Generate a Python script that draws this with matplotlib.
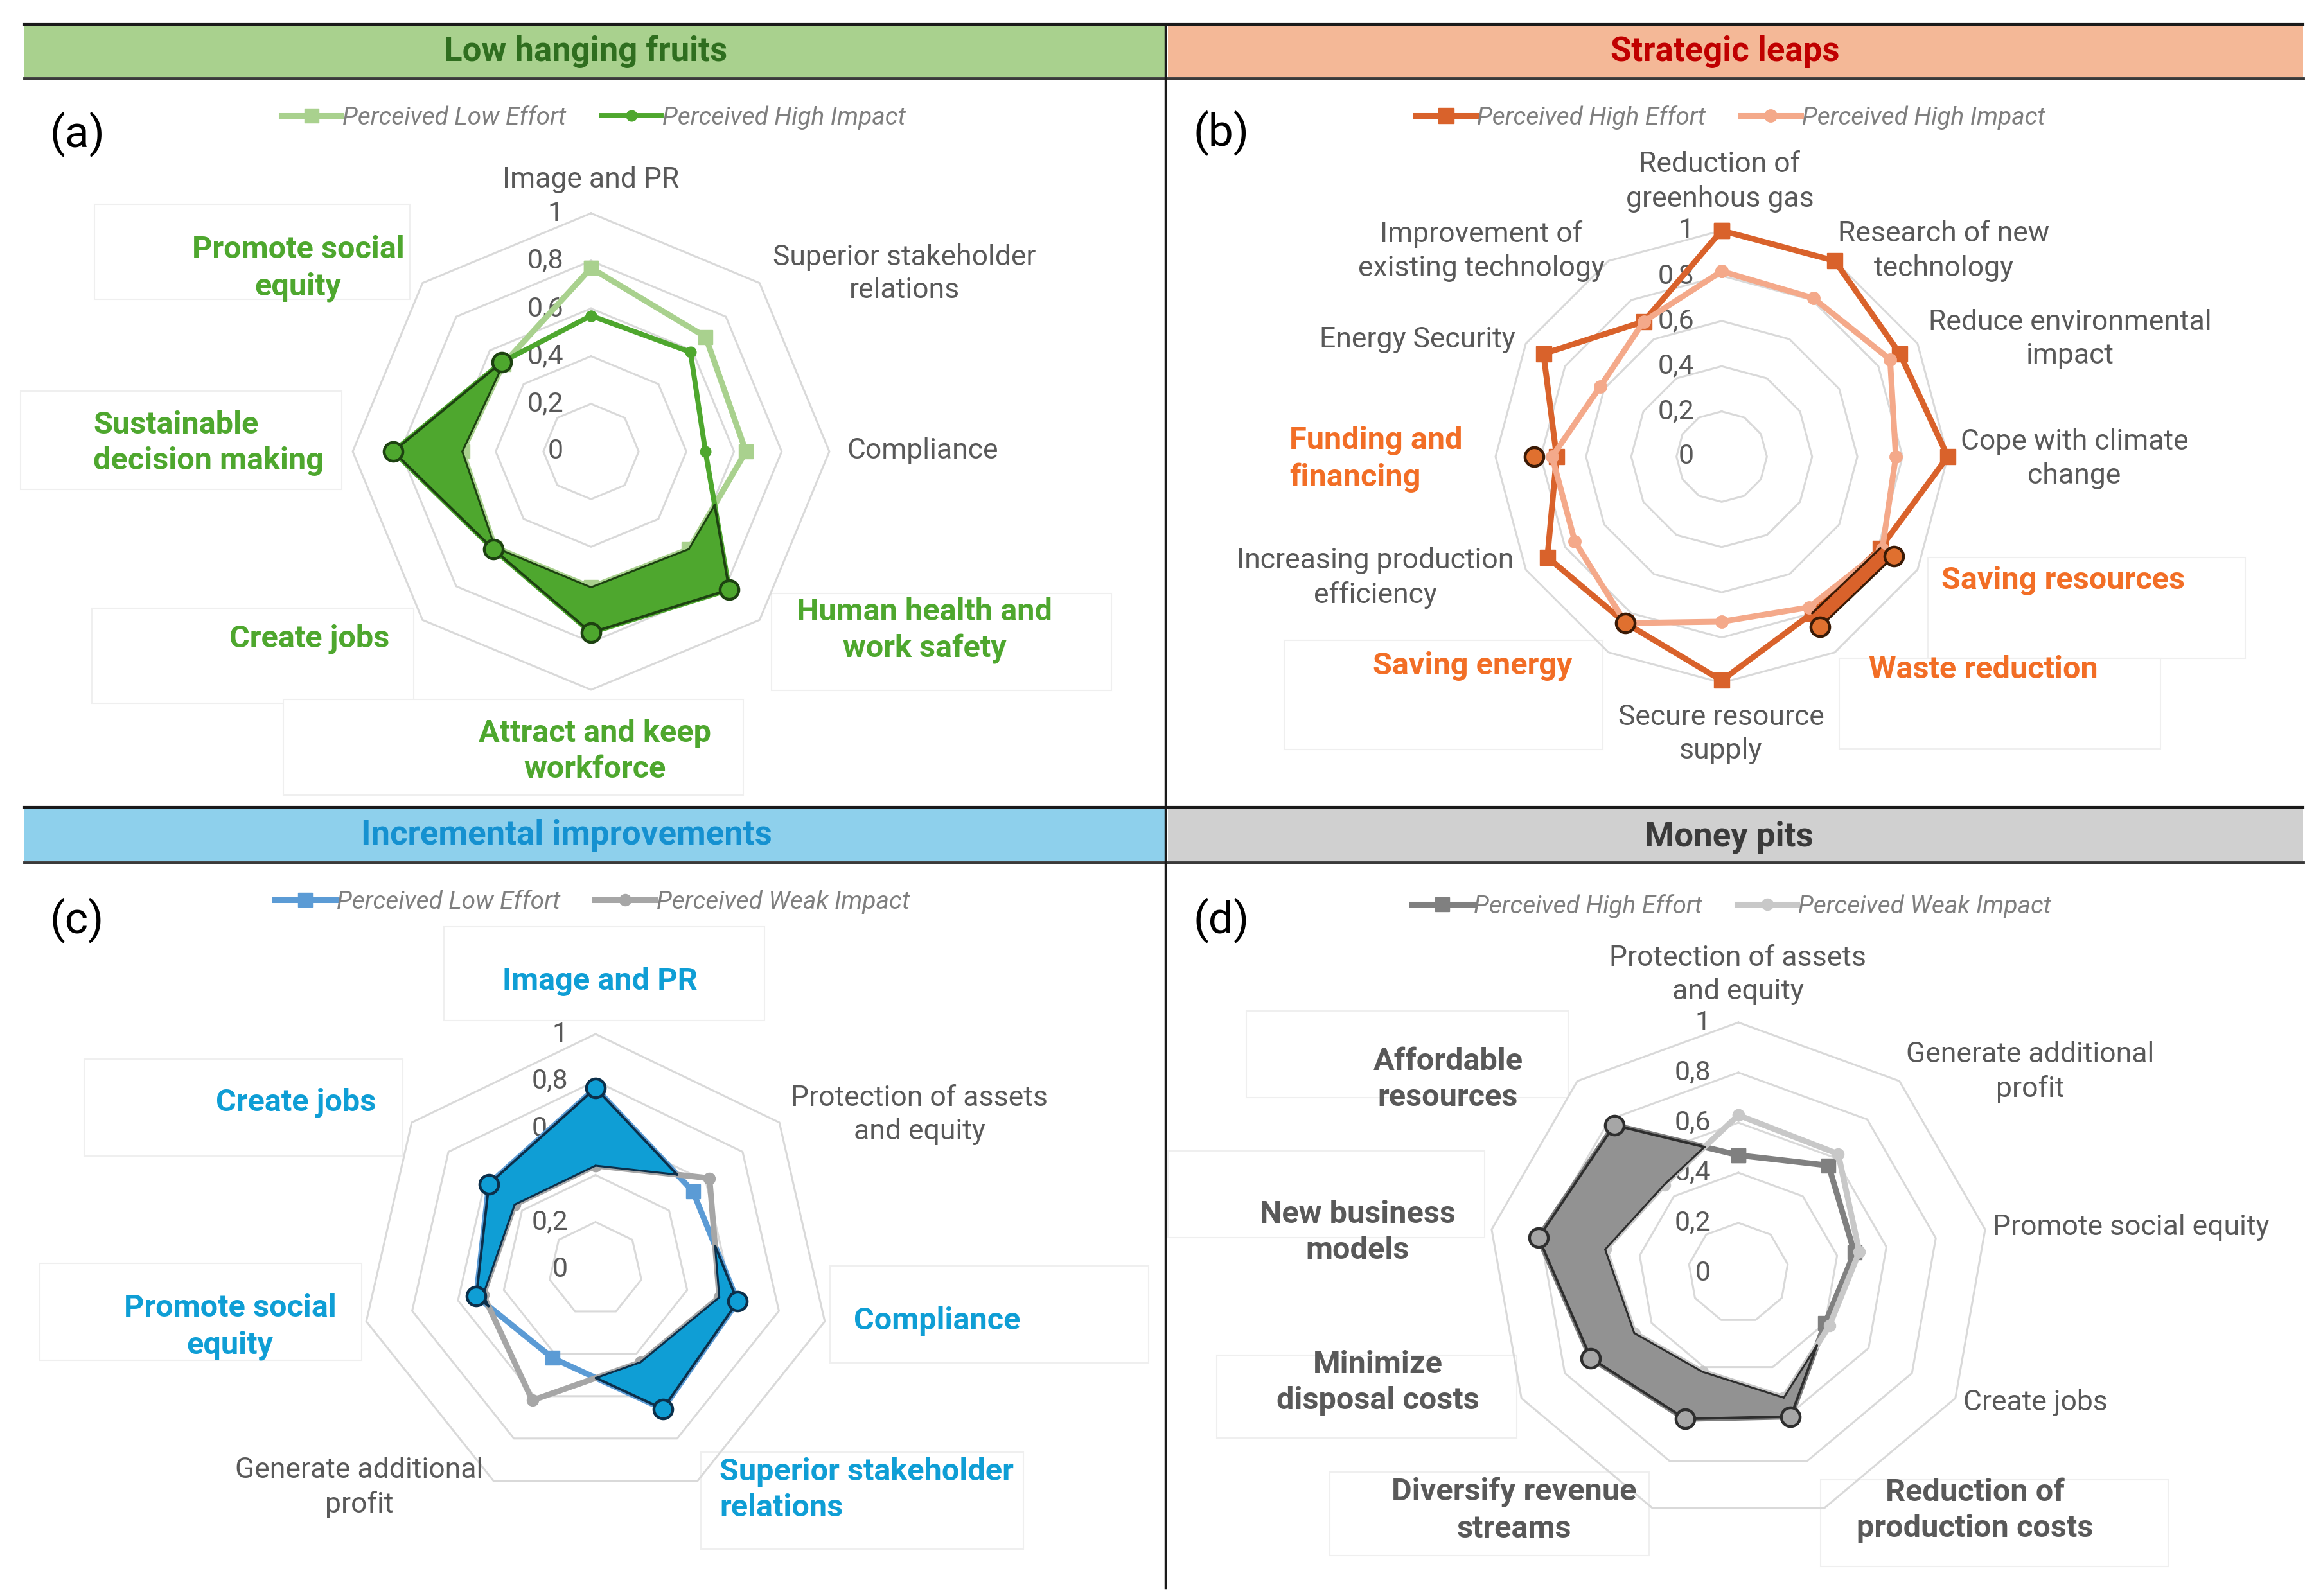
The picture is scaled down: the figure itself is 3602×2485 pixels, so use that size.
import numpy as np
import matplotlib
matplotlib.use("Agg")
import matplotlib.pyplot as plt
from matplotlib.lines import Line2D
from matplotlib.patches import Rectangle

# ---------------- DATA ----------------
a_categories = ["Image and PR", "Superior stakeholder\nrelations", "Compliance",
                "Human health and\nwork safety", "Attract and keep\nworkforce", "Create jobs",
                "Sustainable\ndecision making", "Promote social\nequity"]
a_low_effort = [0.77, 0.68, 0.65, 0.58, 0.57, 0.57, 0.54, 0.52]
a_high_impact = [0.57, 0.59, 0.48, 0.82, 0.76, 0.58, 0.83, 0.53]
a_highlight = [False, False, False, True, True, True, True, True]

b_categories = ["Reduction of\ngreenhous gas", "Research of new\ntechnology",
                "Reduce environmental\nimpact", "Cope with climate\nchange", "Saving resources",
                "Waste reduction", "Secure resource\nsupply", "Saving energy",
                "Increasing production\nefficiency", "Funding and\nfinancing", "Energy Security",
                "Improvement of\nexisting technology"]
b_high_effort = [1.00, 1.00, 0.91, 1.00, 0.81, 0.80, 0.99, 0.85, 0.89, 0.73, 0.91, 0.69]
b_high_impact = [0.82, 0.81, 0.86, 0.77, 0.82, 0.77, 0.73, 0.85, 0.75, 0.75, 0.62, 0.69]
b_highlight_vals = [np.nan, np.nan, np.nan, np.nan, 0.88, 0.87, np.nan, 0.85, np.nan, 0.83, np.nan, 0.69]
b_highlight = [False, False, False, False, True, True, False, True, False, True, False, False]

c_categories = ["Image and PR", "Protection of assets\nand equity", "Compliance",
                "Superior stakeholder\nrelations", "Generate additional\nprofit",
                "Promote social\nequity", "Create jobs"]
c_low_effort = [0.77, 0.53, 0.62, 0.66, 0.42, 0.52, 0.58]
c_weak_impact = [0.44, 0.62, 0.54, 0.44, 0.62, 0.49, 0.44]
c_highlight = [True, False, True, True, False, True, True]

d_categories = ["Protection of assets\nand equity", "Generate additional\nprofit",
                "Promote social equity", "Create jobs", "Reduction of\nproduction costs",
                "Diversify revenue\nstreams", "Minimize\ndisposal costs", "New business\nmodels",
                "Affordable\nresources"]
d_high_effort = [0.47, 0.56, 0.47, 0.40, 0.61, 0.62, 0.68, 0.81, 0.77]
d_weak_impact = [0.63, 0.62, 0.49, 0.42, 0.53, 0.42, 0.48, 0.54, 0.46]
d_highlight = [False, False, False, False, True, True, True, True, True]

ring_levels = [0, 0.2, 0.4, 0.6, 0.8, 1.0]
ring_labels = ["0", "0,2", "0,4", "0,6", "0,8", "1"]

# ---------------- LAYOUT ----------------
W, H = 3602, 2485
plt.rcParams['font.family'] = ['Roboto', 'DejaVu Sans']
fig = plt.figure(figsize=(W / 100, H / 100), dpi=100)
fig.patch.set_facecolor('white')

def fx(x):
    return x / W

def fy(y):
    return 1 - y / H

GRID = '#d9d9d9'
TXT = '#595959'
LW = 6.5

def rect(x0, y0, x1, y1, fc, ec='none', lw=0, z=0):
    fig.add_artist(Rectangle((fx(x0), fy(y1)), (x1 - x0) / W, (y1 - y0) / H,
                             transform=fig.transFigure, facecolor=fc, edgecolor=ec,
                             lw=lw, zorder=z))

def hline(x0, x1, y, color, lw):
    fig.add_artist(Line2D([fx(x0), fx(x1)], [fy(y), fy(y)], transform=fig.transFigure,
                          color=color, lw=lw, zorder=3))

# header bands
rect(38, 40, 1814, 120, '#a9d18e')
rect(1818, 40, 3585, 120, '#f4b897')
rect(38, 1260, 1814, 1340, '#8ed0ec')
rect(1818, 1260, 3585, 1340, '#d0d0d0')
hline(38, 3585, 38, '#1a1a1a', 3)
hline(38, 3585, 122, '#3a3a3a', 3.5)
hline(38, 3585, 1257, '#1a1a1a', 3)
hline(38, 3585, 1343, '#3a3a3a', 3.5)
fig.add_artist(Line2D([fx(1814), fx(1814)], [fy(38), fy(2472)], transform=fig.transFigure,
                      color='#1a1a1a', lw=2.5, zorder=3))

headers = [("Low hanging fruits", 912, 80, '#2f6e1f'),
           ("Strategic leaps", 2685, 80, '#c00000'),
           ("Incremental improvements", 882, 1301, '#1591d0'),
           ("Money pits", 2691, 1303, '#3a3a3a')]
for t, x, y, c in headers:
    fig.text(fx(x), fy(y), t, ha='center', va='center', fontsize=38, fontweight='bold', color=c)

for t, x, y in [("(a)", 120, 209), ("(b)", 1901, 207), ("(c)", 120, 1433), ("(d)", 1901, 1433)]:
    fig.text(fx(x), fy(y), t, ha='center', va='center', fontsize=50, color='black')


def make_polar(cx, cy, R):
    ax = fig.add_axes([(cx - R) / W, 1 - (cy + R) / H, 2 * R / W, 2 * R / H], projection='polar')
    ax.set_theta_zero_location('N')
    ax.set_theta_direction(-1)
    ax.set_ylim(0, 1)
    ax.set_xticks([])
    ax.set_yticks([])
    ax.grid(False)
    ax.spines['polar'].set_visible(False)
    ax.patch.set_visible(False)
    ax.set_zorder(2)
    return ax


def closed(v):
    v = list(v)
    return np.array(v + v[:1], dtype=float)


def draw_grid(ax, n):
    th = np.linspace(0, 2 * np.pi, n, endpoint=False)
    for lv in ring_levels[1:]:
        ax.plot(closed(th), [lv] * (n + 1), color=GRID, lw=2.2, zorder=1, clip_on=False)
    for lv, lab in zip(ring_levels, ring_labels):
        ax.annotate(lab, xy=(0, lv), xytext=(-31, 0), textcoords='offset points',
                    ha='right', va='center', fontsize=31, color=TXT, zorder=1.5,
                    annotation_clip=False)
    return th


def xy(t, r):
    return np.array([r * np.cos(t), r * np.sin(t)])


def intersect(p0, p1, q0, q1):
    d1 = p1 - p0
    d2 = q1 - q0
    A = np.array([[d1[0], -d2[0]], [d1[1], -d2[1]]])
    s, _ = np.linalg.solve(A, q0 - p0)
    return p0 + s * d1


def draw_region(ax, th, outer, inner, sectors, face, edge, lw_out=2.8, lw_in=2.2):
    n = len(th)
    for i in sectors:
        j = (i + 1) % n
        if np.isnan(outer[i]) or np.isnan(outer[j]):
            continue
        P0, P1 = xy(th[i], outer[i]), xy(th[j], outer[j])
        Q0, Q1 = xy(th[i], inner[i]), xy(th[j], inner[j])
        d0, d1 = outer[i] - inner[i], outer[j] - inner[j]
        if d0 <= 0 and d1 <= 0:
            continue
        if d0 > 0 and d1 > 0:
            poly = [P0, P1, Q1, Q0]
            oe, ie = [P0, P1], [Q0, Q1]
        else:
            X = intersect(P0, P1, Q0, Q1)
            if d0 > 0:
                poly = [P0, X, Q0]
                oe, ie = [P0, X], [Q0, X]
            else:
                poly = [X, P1, Q1]
                oe, ie = [X, P1], [X, Q1]
        pts = np.array(poly)
        ax.fill(np.arctan2(pts[:, 1], pts[:, 0]), np.hypot(pts[:, 0], pts[:, 1]),
                facecolor=face, edgecolor=face, lw=1.0, zorder=4, clip_on=False)
        for seg, lw in ((oe, lw_out), (ie, lw_in)):
            s = np.array(seg)
            ax.plot(np.arctan2(s[:, 1], s[:, 0]), np.hypot(s[:, 0], s[:, 1]), color=edge,
                    lw=lw, zorder=4.5, solid_capstyle='round', clip_on=False)


def labels(cats, xys, has, highlight, hcolor):
    for name, (x, y), ha, hl in zip(cats, xys, has, highlight):
        if hl:
            fig.text(fx(x), fy(y), name, ha=ha, va='center', fontsize=35, fontweight='bold',
                     color=hcolor, linespacing=1.3, multialignment=ha)
        else:
            fig.text(fx(x), fy(y), name, ha=ha, va='center', fontsize=32, color=TXT,
                     linespacing=1.3, multialignment=ha)


def boxes(lst):
    for b in lst:
        rect(*b, fc='white', ec='#efefef', lw=1.5, z=0.5)


def legend(ax, handles, names, x, y, spacing=1.4):
    leg = ax.legend(handles=handles, labels=names, loc='center',
                    bbox_to_anchor=(fx(x), fy(y)), bbox_transform=fig.transFigure, ncol=2,
                    frameon=False, handlelength=2.4, handletextpad=0.05, columnspacing=spacing,
                    prop=dict(style='italic', size=28), numpoints=1)
    for t in leg.get_texts():
        t.set_color('#7f7f7f')


# ---------------- PANEL (a) ----------------
boxes([(147, 318, 638, 466), (32, 609, 532, 762), (143, 947, 644, 1095),
       (441, 1089, 1157, 1238), (1201, 924, 1730, 1075)])
ax = make_polar(920, 703, 371)
th = draw_grid(ax, len(a_categories))
la1, = ax.plot(closed(th), closed(a_low_effort), color='#a9d18e', lw=LW, marker='s', ms=16,
               zorder=3, clip_on=False)
la2, = ax.plot(closed(th), closed(a_high_impact), color='#4ea72e', lw=LW - 0.8, marker='o', ms=12,
               zorder=3.2, clip_on=False)
draw_region(ax, th, a_high_impact, a_low_effort, range(len(th)), '#4ea72e', '#1d4211')
idx = np.where(a_highlight)[0]
ax.plot(th[idx], np.array(a_high_impact)[idx], ls='none', marker='o', ms=21, mfc='#4ea72e',
        mec='#1d4211', mew=3.2, zorder=6, clip_on=False)
legend(ax, [la1, la2], ["Perceived Low Effort", "Perceived High Impact"], 924, 183)
labels(a_categories,
       [(920, 280), (1408, 426), (1436, 702), (1439, 982), (926, 1170), (482, 995), (145, 690), (464, 418)],
       ['center', 'center', 'center', 'center', 'center', 'center', 'left', 'center'],
       a_highlight, '#4ea72e')

# ---------------- PANEL (b) ----------------
boxes([(3001, 868, 3495, 1025), (2863, 1025, 3363, 1166), (1999, 997, 2495, 1167)])
ax = make_polar(2680, 711, 352)
th = draw_grid(ax, len(b_categories))
lb1, = ax.plot(closed(th), closed(b_high_effort), color='#d9622b', lw=LW, marker='s', ms=17,
               zorder=3, clip_on=False)
lb2, = ax.plot(closed(th), closed(b_high_impact), color='#f4a98a', lw=LW, marker='o', ms=14,
               zorder=3.2, clip_on=False)
draw_region(ax, th, b_highlight_vals, b_high_effort, [4], '#d9622b', '#3a1a06', 2.4, 2.4)
idx = np.where(b_highlight)[0]
ax.plot(th[idx], np.array(b_highlight_vals)[idx], ls='none', marker='o', ms=21, mfc='#e0702f',
        mec='#3a1a06', mew=3.2, zorder=6, clip_on=False)
legend(ax, [lb1, lb2], ["Perceived High Effort", "Perceived High Impact"], 2694, 183)
labels(b_categories,
       [(2677, 283), (3026, 391), (3222, 528), (3229, 714), (3211, 904), (3087, 1043),
        (2679, 1143), (2292, 1037), (2141, 900), (2007, 715), (2206, 529), (2306, 391)],
       ['center'] * 9 + ['left', 'center', 'center'],
       b_highlight, '#f26e26')

# ---------------- PANEL (c) ----------------
boxes([(691, 1443, 1190, 1589), (131, 1649, 627, 1800), (62, 1967, 563, 2118),
       (1292, 1971, 1788, 2122), (1091, 2261, 1593, 2412)])
ax = make_polar(927, 1976, 366)
th = draw_grid(ax, len(c_categories))
lc1, = ax.plot(closed(th), closed(c_low_effort), color='#5b9bd5', lw=LW, marker='s', ms=16,
               zorder=3, clip_on=False)
lc2, = ax.plot(closed(th), closed(c_weak_impact), color='#a6a6a6', lw=LW, marker='o', ms=13,
               zorder=3.2, clip_on=False)
draw_region(ax, th, c_low_effort, c_weak_impact, range(len(th)), '#0f9ed5', '#0c2f4a')
idx = np.where(c_highlight)[0]
ax.plot(th[idx], np.array(c_low_effort)[idx], ls='none', marker='o', ms=21, mfc='#0f9ed5',
        mec='#0c2f4a', mew=3.2, zorder=6, clip_on=False)
legend(ax, [lc1, lc2], ["Perceived Low Effort", "Perceived Weak Impact"], 922, 1404)
labels(c_categories,
       [(934, 1528), (1431, 1736), (1459, 2057), (1120, 2320), (559, 2316), (358, 2066), (461, 1717)],
       ['center', 'center', 'center', 'left', 'center', 'center', 'center'],
       c_highlight, '#0f9ed5')

# ---------------- PANEL (d) ----------------
boxes([(1940, 1574, 2441, 1709), (1818, 1792, 2311, 1927), (1894, 2110, 2361, 2239),
       (2070, 2292, 2567, 2422), (2834, 2304, 3375, 2439)])
ax = make_polar(2706, 1982, 390)
th = draw_grid(ax, len(d_categories))
ld1, = ax.plot(closed(th), closed(d_high_effort), color='#808080', lw=LW, marker='s', ms=16,
               zorder=3, clip_on=False)
ld2, = ax.plot(closed(th), closed(d_weak_impact), color='#c8c8c8', lw=LW, marker='o', ms=13,
               zorder=3.2, clip_on=False)
draw_region(ax, th, d_high_effort, d_weak_impact, range(len(th)), '#929292', '#2e2e2e')
idx = np.where(d_highlight)[0]
ax.plot(th[idx], np.array(d_high_effort)[idx], ls='none', marker='o', ms=21, mfc='#a6a6a6',
        mec='#2e2e2e', mew=3.2, zorder=6, clip_on=False)
legend(ax, [ld1, ld2], ["Perceived High Effort", "Perceived Weak Impact"], 2696, 1411)
labels(d_categories,
       [(2705, 1518), (3160, 1669), (3317, 1911), (3168, 2184), (3074, 2352), (2357, 2352),
        (2145, 2153), (2113, 1919), (2254, 1681)],
       ['center'] * 9,
       d_highlight, '#595959')

fig.savefig("out.png", dpi=100, facecolor='white')
